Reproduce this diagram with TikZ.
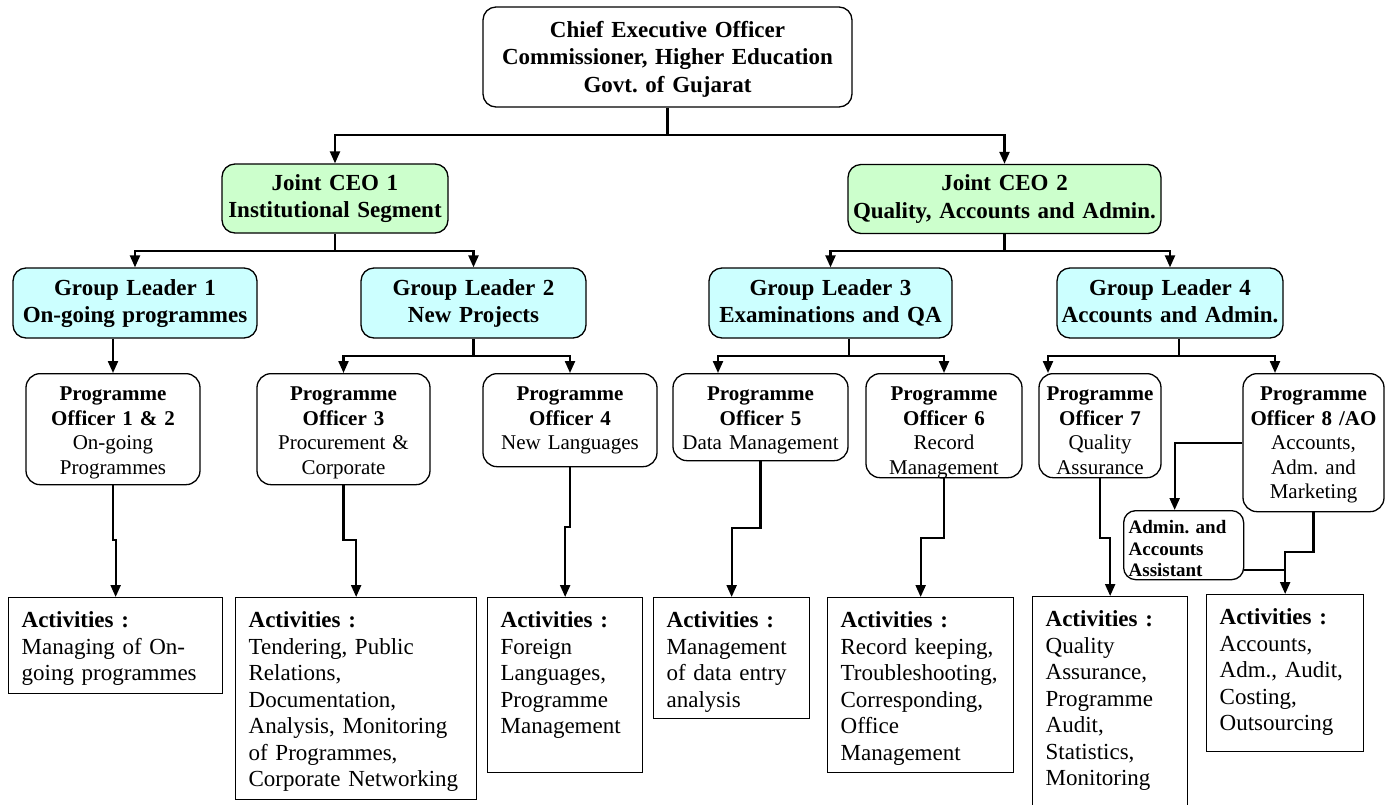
\documentclass[tikz,border=0pt]{standalone}
\usepackage{fontspec}
\setmainfont{Liberation Serif}
\usetikzlibrary{arrows.meta}
\definecolor{jgreen}{RGB}{204,255,204}
\definecolor{gcyan}{RGB}{204,255,255}
\hyphenpenalty=10000
\frenchspacing

\begin{document}
\begin{tikzpicture}[x=1pt,y=-1pt,
    head/.style={draw, line width=1.3pt, rounded corners=13pt, align=center, inner sep=2pt, text width=#1pt, font=\bfseries\fontsize{23}{27.5}\selectfont},
    jceo/.style={head=#1, fill=jgreen, text height=24pt, text depth=41pt},
    glead/.style={head=#1, fill=gcyan, text height=25pt, text depth=41pt},
    officer/.style={draw, line width=1.3pt, rounded corners=14pt, anchor=north, align=center, inner xsep=2pt, inner ysep=3pt, text height=24pt, text width=#1pt, font=\fontsize{21}{24.5}\selectfont},
    actbox/.style={draw, line width=1.3pt, anchor=north west, align=left, inner xsep=13pt, inner ysep=4pt, text height=26pt, text width=#1pt, font=\fontsize{23}{26.5}\selectfont},
    link/.style={line width=2.2pt},
    arr/.style={link, -{Triangle[length=12pt,width=10pt]}}]
    \useasboundingbox (0,0) rectangle (1390,804);
\node[head=365, text height=28pt, text depth=68pt] (ceo) at (667.5,57) {Chief Executive Officer\\Commissioner, Higher Education\\Govt. of Gujarat}; % ceo
\node[jceo=222] (jceo1) at (335,198.5) {Joint CEO 1\\Institutional Segment}; % jceo1
\node[jceo=309] (jceo2) at (1004.5,199) {Joint CEO 2\\Quality, Accounts and Admin.}; % jceo2
\node[glead=240] (gl1) at (135,303) {Group Leader 1\\On-going programmes}; % gl1
\node[glead=221] (gl2) at (473.5,303) {Group Leader 2\\New Projects}; % gl2
\node[glead=239] (gl3) at (830.5,303) {Group Leader 3\\Examinations and QA}; % gl3
\node[glead=222] (gl4) at (1170,303) {Group Leader 4\\Accounts and Admin.}; % gl4
\node[officer=170, text depth=81pt] (po12) at (113,373) {\textbf{Programme}\\\textbf{Officer 1 \& 2}\\On-going\\Programmes}; % po12
\node[officer=169, text depth=81pt] (po3) at (343.5,373) {\textbf{Programme}\\\textbf{Officer 3}\\Procurement \&\\Corporate}; % po3
\node[officer=170, text depth=63pt] (po4) at (570,373) {\textbf{Programme}\\\textbf{Officer 4}\\New Languages}; % po4
\node[officer=171, text depth=57pt] (po5) at (760.5,373) {\textbf{Programme}\\\textbf{Officer 5}\\Data Management}; % po5
\node[officer=152, text depth=74pt] (po6) at (944,373) {\textbf{Programme}\\\textbf{Officer 6}\\Record\\Management}; % po6
\node[officer=118, text depth=74pt] (po7) at (1100,373) {\textbf{Programme}\\\textbf{Officer 7}\\Quality\\Assurance}; % po7
\node[officer=137, text depth=108pt] (po8) at (1313.5,373) {\textbf{Programme}\\\textbf{Officer 8 /AO}\\Accounts,\\Adm. and\\Marketing}; % po8
\node[draw, line width=1.3pt, rounded corners=12pt, anchor=north west, align=left, inner xsep=5pt, inner ysep=3pt, text width=110pt, text height=20pt, text depth=43pt, font=\bfseries\fontsize{19}{21.5}\selectfont] (adm) at (1123,510) {Admin. and\\Accounts\\Assistant}; % adm
\node[actbox=188, text depth=62pt] (act1) at (8,597) {\textbf{Activities :}\\Managing of On-\\going programmes}; % act1
\node[actbox=215, text depth=168pt] (act2) at (235,597) {\textbf{Activities :}\\Tendering, Public\\Relations,\\Documentation,\\Analysis, Monitoring\\of Programmes,\\Corporate Networking}; % act2
\node[actbox=129, text depth=141pt] (act3) at (487,597) {\textbf{Activities :}\\Foreign\\Languages,\\Programme\\Management}; % act3
\node[actbox=130, text depth=87pt] (act4) at (653,597) {\textbf{Activities :}\\Management\\of data entry\\analysis}; % act4
\node[actbox=160, text depth=141pt] (act5) at (827,597) {\textbf{Activities :}\\Record keeping,\\Troubleshooting,\\Corresponding,\\Office\\Management}; % act5
\node[actbox=129, text depth=181pt] (act6) at (1032,596) {\textbf{Activities :}\\Quality\\Assurance,\\Programme\\Audit,\\Statistics,\\Monitoring}; % act6
\node[actbox=131, text depth=123pt] (act7) at (1206,594) {\textbf{Activities :}\\Accounts,\\Adm., Audit,\\Costing,\\Outsourcing}; % act7
\draw[link] (ceo.south) -- (ceo.south |- 0,135) coordinate (t0); % ceo
\draw[arr] (t0) -| (jceo1.north); % jceo1
\draw[arr] (t0) -| (jceo2.north); % jceo2
\draw[link] (jceo1.south) -- (jceo1.south |- 0,251) coordinate (t1); % jceo1
\draw[arr] (t1) -| (gl1.north); % gl1
\draw[arr] (t1) -| (gl2.north); % gl2
\draw[link] (jceo2.south) -- (jceo2.south |- 0,251) coordinate (t2); % jceo2
\draw[arr] (t2) -| (gl3.north); % gl3
\draw[arr] (t2) -| (gl4.north); % gl4
\draw[arr] (gl1.south -| po12.north) -- (po12.north); % po12
\draw[link] (gl2.south) -- (gl2.south |- 0,356) coordinate (t3); % gl2
\draw[arr] (t3) -| (po3.north); % po3
\draw[arr] (t3) -| (po4.north); % po4
\draw[link] (849,0 |- gl3.south) -- (849,356) coordinate (t4); % gl3
\draw[arr] (t4) -| (718,0 |- po5.north); % po5
\draw[arr] (t4) -| (po6.north); % po6
\draw[link] (1179,0 |- gl4.south) -- (1179,356) coordinate (t5); % gl4
\draw[arr] (t5) -| (1048,0 |- po7.north); % po7
\draw[arr] (t5) -| (1275,0 |- po8.north); % po8
\draw[arr] (po8.west) -| ([xshift=-9pt]adm.north); % adm
\draw[arr] (po12.south) -- (po12.south |- 0,540) -| (act1.north); % act1
\draw[arr] (po3.south) -- (po3.south |- 0,540) -| (act2.north); % act2
\draw[arr] (po4.south) -- (po4.south |- 0,527) -| (act3.north); % act3
\draw[arr] (po5.south) -- (po5.south |- 0,528) -| (act4.north); % act4
\draw[arr] (po6.south) -- (po6.south |- 0,538) -| (act5.north); % act5
\draw[arr] (po7.south) -- (po7.south |- 0,538) -| (act6.north); % act6
\draw[arr] (po8.south) -- (po8.south |- 0,552) -| (act7.north); % act7
\coordinate (admJ) at ([yshift=10pt]adm.south east);
\draw[link] (admJ) -- (admJ -| act7.north); % adm
    \end{tikzpicture}
\end{document}
